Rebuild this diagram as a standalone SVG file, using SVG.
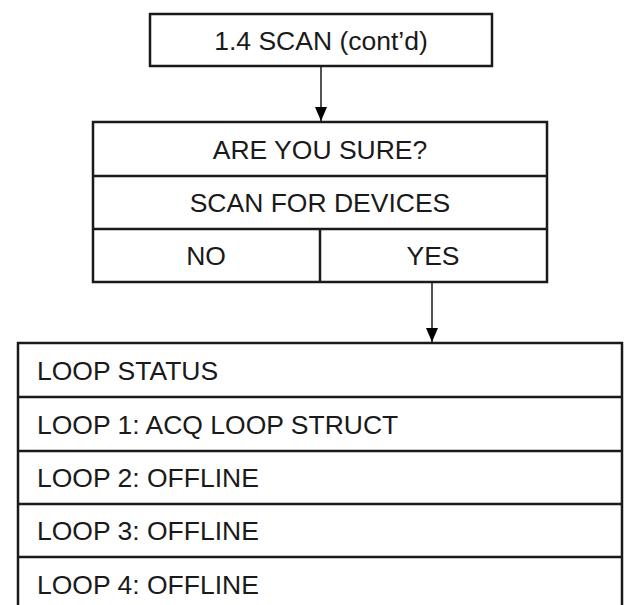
<svg xmlns="http://www.w3.org/2000/svg" width="624" height="605" viewBox="0 0 624 605">
<defs>
<style>
.box{fill:#fff;stroke:#1a1a1a;stroke-width:2.5}
.ln{stroke:#1a1a1a;stroke-width:2.5;fill:none}
.t{font-family:"Liberation Sans",Arial,sans-serif;font-size:26.5px;fill:#1a1a1a}
.c{text-anchor:middle}
.conn{stroke:#1a1a1a;stroke-width:1.5;fill:none}
</style>
</defs>
<rect width="624" height="605" fill="#fff"/>
<g id="scan">
<rect class="box" x="150" y="14" width="342" height="52"/>
<text class="t c" x="321" y="49.5">1.4 SCAN (cont’d)</text>
</g>
<g id="confirm">
<rect class="box" x="93" y="122" width="454" height="160"/>
<line class="ln" x1="93" y1="176" x2="547" y2="176"/>
<line class="ln" x1="93" y1="229" x2="547" y2="229"/>
<line class="ln" x1="320" y1="229" x2="320" y2="282"/>
<text class="t c" x="320" y="158.5">ARE YOU SURE?</text>
<text class="t c" x="320" y="211.5">SCAN FOR DEVICES</text>
<text class="t c" x="206" y="264.5">NO</text>
<text class="t c" x="433" y="264.5">YES</text>
</g>
<g id="loopstatus">
<rect class="box" x="18" y="343" width="604" height="280"/>
<line class="ln" x1="18" y1="397" x2="622" y2="397"/>
<line class="ln" x1="18" y1="451" x2="622" y2="451"/>
<line class="ln" x1="18" y1="504" x2="622" y2="504"/>
<line class="ln" x1="18" y1="557" x2="622" y2="557"/>
<text class="t" x="37" y="379.5">LOOP STATUS</text>
<text class="t" x="37" y="433.5">LOOP 1: ACQ LOOP STRUCT</text>
<text class="t" x="37" y="486.5">LOOP 2: OFFLINE</text>
<text class="t" x="37" y="539.5">LOOP 3: OFFLINE</text>
<text class="t" x="37" y="593.5">LOOP 4: OFFLINE</text>
</g>
<g id="connectors">
<line class="conn" x1="321" y1="66" x2="321" y2="121"/>
<line class="conn" x1="432" y1="282" x2="432" y2="342"/>
<path d="M315,107 L327,107 L321,121 Z" fill="#000"/>
<path d="M426,328 L438,328 L432,342 Z" fill="#000"/>
</g>
</svg>
